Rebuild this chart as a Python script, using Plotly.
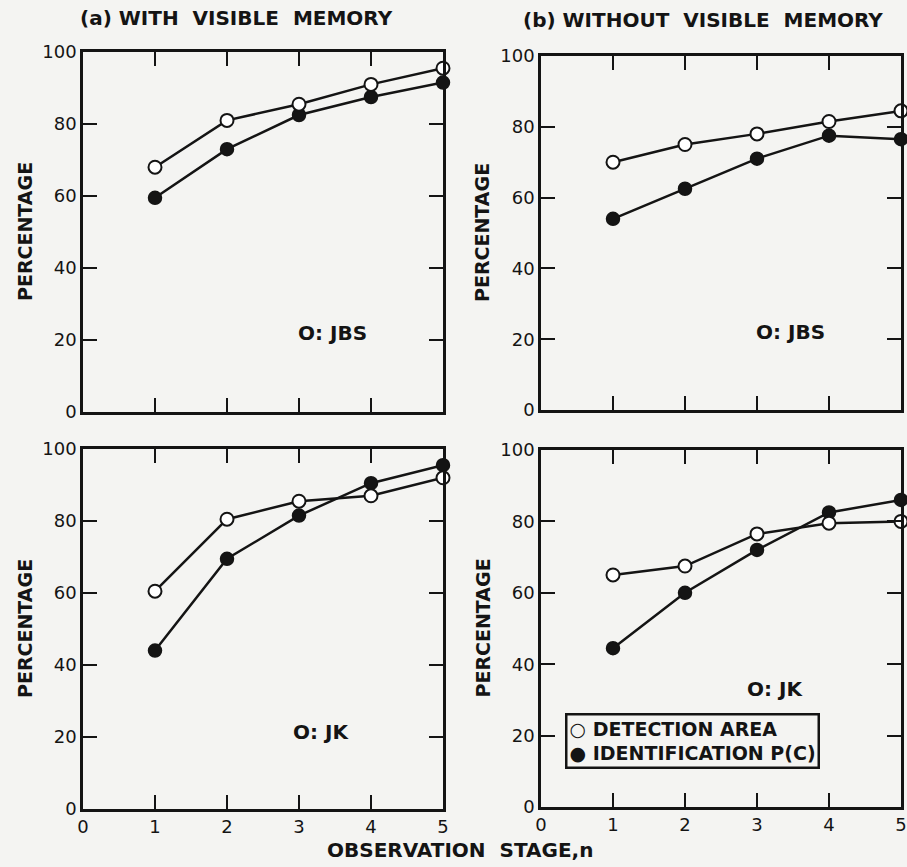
import plotly.graph_objects as go

stages = [1, 2, 3, 4, 5]

# (a) with visible memory, observer JBS
a_jbs_detection = [68, 81, 85.5, 91, 95.5]
a_jbs_ident = [59.5, 73, 82.5, 87.5, 91.5]
# (b) without visible memory, observer JBS
b_jbs_detection = [70, 75, 78, 81.5, 84.5]
b_jbs_ident = [54, 62.5, 71, 77.5, 76.5]
# (a) with visible memory, observer JK
a_jk_detection = [60.5, 80.5, 85.5, 87, 92]
a_jk_ident = [44, 69.5, 81.5, 90.5, 95.5]
# (b) without visible memory, observer JK
b_jk_detection = [65, 67.5, 76.5, 79.5, 80]
b_jk_ident = [44.5, 60, 72, 82.5, 86]

x_ticks = [0, 1, 2, 3, 4, 5]
y_ticks = [0, 20, 40, 60, 80, 100]

panels = [
    # (detection, identification, axis suffix, observer label, label x, label y)
    (a_jbs_detection, a_jbs_ident, "", "O: JBS", 3.47, 22),
    (b_jbs_detection, b_jbs_ident, "2", "O: JBS", 3.47, 22),
    (a_jk_detection, a_jk_ident, "3", "O: JK", 3.3, 21.5),
    (b_jk_detection, b_jk_ident, "4", "O: JK", 3.25, 33),
]

W, H = 907, 867
BG = "#f4f4f2"
INK = "#141414"
FONT = "DejaVu Sans"

# pixel boxes (left, top, right, bottom)
boxes = {
    "": (83, 52, 443, 412),
    "2": (541, 56, 901, 410),
    "3": (83, 449, 443, 809),
    "4": (541, 450, 901, 807),
}

fig = go.Figure()

for det, ide, suf, obs, lx, ly in panels:
    xa = "x" + suf
    ya = "y" + suf
    fig.add_trace(go.Scatter(
        x=stages, y=ide, xaxis=xa, yaxis=ya, mode="lines+markers",
        line=dict(color=INK, width=2.5),
        marker=dict(symbol="circle", size=13, color=INK, line=dict(color=INK, width=1.5)),
        cliponaxis=False, showlegend=False, name="IDENTIFICATION P(C)"))
    fig.add_trace(go.Scatter(
        x=stages, y=det, xaxis=xa, yaxis=ya, mode="lines+markers",
        line=dict(color=INK, width=2.5),
        marker=dict(symbol="circle", size=13, color="white", line=dict(color=INK, width=2)),
        cliponaxis=False, showlegend=False, name="DETECTION AREA"))
    fig.add_annotation(x=lx, y=ly, xref=xa, yref=ya, text="<b>" + obs + "</b>", showarrow=False,
                       xanchor="center", yanchor="middle",
                       font=dict(family=FONT, size=20, color=INK))

for suf, (l, t, r, b) in boxes.items():
    xd = [l / W, r / W]
    yd = [1 - b / H, 1 - t / H]
    bottom_row = suf in ("3", "4")
    xkey = "xaxis" + suf
    ykey = "yaxis" + suf
    fig.update_layout({
        xkey: dict(domain=xd, range=[0, 5], anchor="y" + suf, automargin=False,
                   tickvals=x_ticks, ticktext=[str(v) for v in x_ticks],
                   showticklabels=bottom_row, ticks="inside", ticklen=14, tickwidth=2,
                   tickcolor=INK, showline=True, linecolor=INK, linewidth=2.5,
                   mirror="ticks", showgrid=False, zeroline=False,
                   tickfont=dict(family=FONT, size=18, color=INK)),
        ykey: dict(domain=yd, range=[0, 100], anchor="x" + suf, automargin=False,
                   tickvals=y_ticks, ticktext=[str(v) for v in y_ticks],
                   ticks="inside", ticklen=14, tickwidth=2,
                   tickcolor=INK, showline=True, linecolor=INK, linewidth=2.5,
                   mirror="ticks", showgrid=False, zeroline=False,
                   tickfont=dict(family=FONT, size=18, color=INK)),
    })

# y-axis labels
for xpx, (l, t, r, b) in [(25, boxes[""]), (482, boxes["2"]), (25, boxes["3"]), (482, boxes["4"])]:
    fig.add_annotation(x=xpx / W, y=1 - ((t + b) / 2) / H, xref="paper", yref="paper",
                       xanchor="center", yanchor="middle",
                       text="<b>PERCENTAGE</b>", textangle=-90, showarrow=False,
                       font=dict(family=FONT, size=19, color=INK))

# column titles
fig.add_annotation(x=236 / W, y=1 - 18 / H, xref="paper", yref="paper",
                   xanchor="center", yanchor="middle",
                   text="<b>(a) WITH  VISIBLE  MEMORY</b>", showarrow=False,
                   font=dict(family=FONT, size=20, color=INK))
fig.add_annotation(x=703 / W, y=1 - 20 / H, xref="paper", yref="paper",
                   xanchor="center", yanchor="middle",
                   text="<b>(b) WITHOUT  VISIBLE  MEMORY</b>", showarrow=False,
                   font=dict(family=FONT, size=20, color=INK))

# x-axis label
fig.add_annotation(x=460 / W, y=1 - 850 / H, xref="paper", yref="paper",
                   xanchor="center", yanchor="middle",
                   text="<b>OBSERVATION  STAGE,n</b>", showarrow=False,
                   font=dict(family=FONT, size=20, color=INK))

# legend box
fig.add_annotation(x=565 / W, y=1 - 713 / H, xref="paper", yref="paper",
                   xanchor="left", yanchor="top", align="left",
                   text="<b>○ DETECTION AREA<br>● IDENTIFICATION P(C)</b>", showarrow=False,
                   bordercolor=INK, borderwidth=2.5, borderpad=2, bgcolor=BG,
                   font=dict(family=FONT, size=19, color=INK))

fig.update_layout(width=W, height=H, margin=dict(l=0, r=0, t=0, b=0, autoexpand=False),
                  paper_bgcolor=BG, plot_bgcolor=BG, showlegend=False)

fig.write_html("out.html", config={"displayModeBar": False},
               post_script="document.body.style.margin='0';")
